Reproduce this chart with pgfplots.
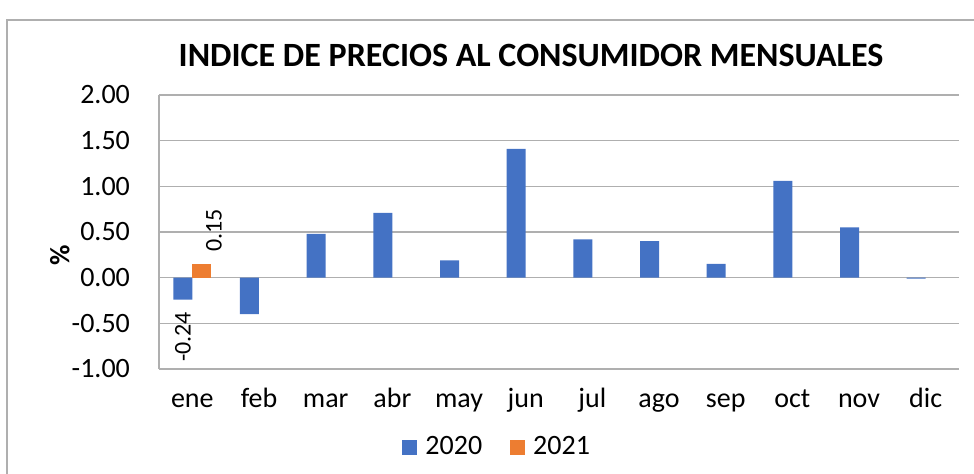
\documentclass[border=0pt]{standalone}
\usepackage{fontspec}
\setmainfont{Carlito}
\usepackage{pgfplots}
\pgfplotsset{compat=1.18}

\definecolor{serieA}{HTML}{4472C4}
\definecolor{serieB}{HTML}{ED7D31}
\definecolor{rejilla}{RGB}{175,175,175}

\begin{document}
\begin{tikzpicture}
\path[use as bounding box] (-79.5pt,-52.5pt) rectangle (407.5pt,184.5pt);
\draw[rejilla, line width=0.8pt] (-76pt,-60pt) -- (-76pt,174.5pt) -- (420pt,174.5pt);
\node[font=\fontsize{17}{20}\selectfont\bfseries] at (186pt,157pt)
  {INDICE DE PRECIOS AL CONSUMIDOR MENSUALES};
\begin{axis}[
    scale only axis,
    width=400pt, height=137pt,
    ybar=0pt, bar width=9.5pt,
    xmin=-0.5, xmax=11.5,
    ymin=-1, ymax=2,
    xtick={0,...,11},
    xticklabels={ene,feb,mar,abr,may,jun,jul,ago,sep,oct,nov,dic},
    ytick={-1,-0.5,0,0.5,1,1.5,2},
    /pgf/number format/.cd, fixed, zerofill, precision=2, assume math mode=true,
    /pgfplots/.cd,
    ymajorgrids,
    grid style={rejilla, line width=0.8pt},
    axis y line*=left,
    y axis line style={-, rejilla, line width=0.8pt},
    x axis line style={draw=none},
    major tick length=0pt,
    tick label style={font=\fontsize{14}{16}\selectfont},
    yticklabel style={xshift=-11pt},
    xticklabel style={anchor=center, text height=10pt, text depth=3pt, yshift=-16pt},
    ylabel={\%},
    ylabel style={font=\fontsize{14}{16}\selectfont\bfseries, at={(axis description cs:-0.124,0.416)}, anchor=center},
    point meta=explicit symbolic,
    legend style={at={(0.424,-0.285)}, anchor=center, draw=none, fill=none,
      legend columns=-1, font=\fontsize{14}{16}\selectfont,
      /tikz/every odd column/.append style={column sep=2pt},
      /tikz/every even column/.append style={column sep=12pt}},
    legend image code/.code={\fill[#1] (0pt,-3.75pt) rectangle (7.5pt,3.75pt);},
]
\addplot[fill=serieA, draw=none,
  nodes near coords,
  every node near coord/.append style={font=\fontsize{12}{14}\selectfont, rotate=90, anchor=east, inner xsep=6pt}]
  coordinates {
    (0,-0.24) [-0.24]
    (1,-0.40) []
    (2,0.48) []
    (3,0.71) []
    (4,0.19) []
    (5,1.41) []
    (6,0.42) []
    (7,0.40) []
    (8,0.15) []
    (9,1.06) []
    (10,0.55) []
    (11,-0.01) []
  };
\addplot[fill=serieB, draw=none,
  nodes near coords,
  every node near coord/.append style={font=\fontsize{12}{14}\selectfont, xshift=6pt, rotate=90, anchor=west, inner xsep=6pt}]
  coordinates {(0,0.15) [0.15]};
\legend{2020,2021}
\end{axis}
\end{tikzpicture}
\end{document}
